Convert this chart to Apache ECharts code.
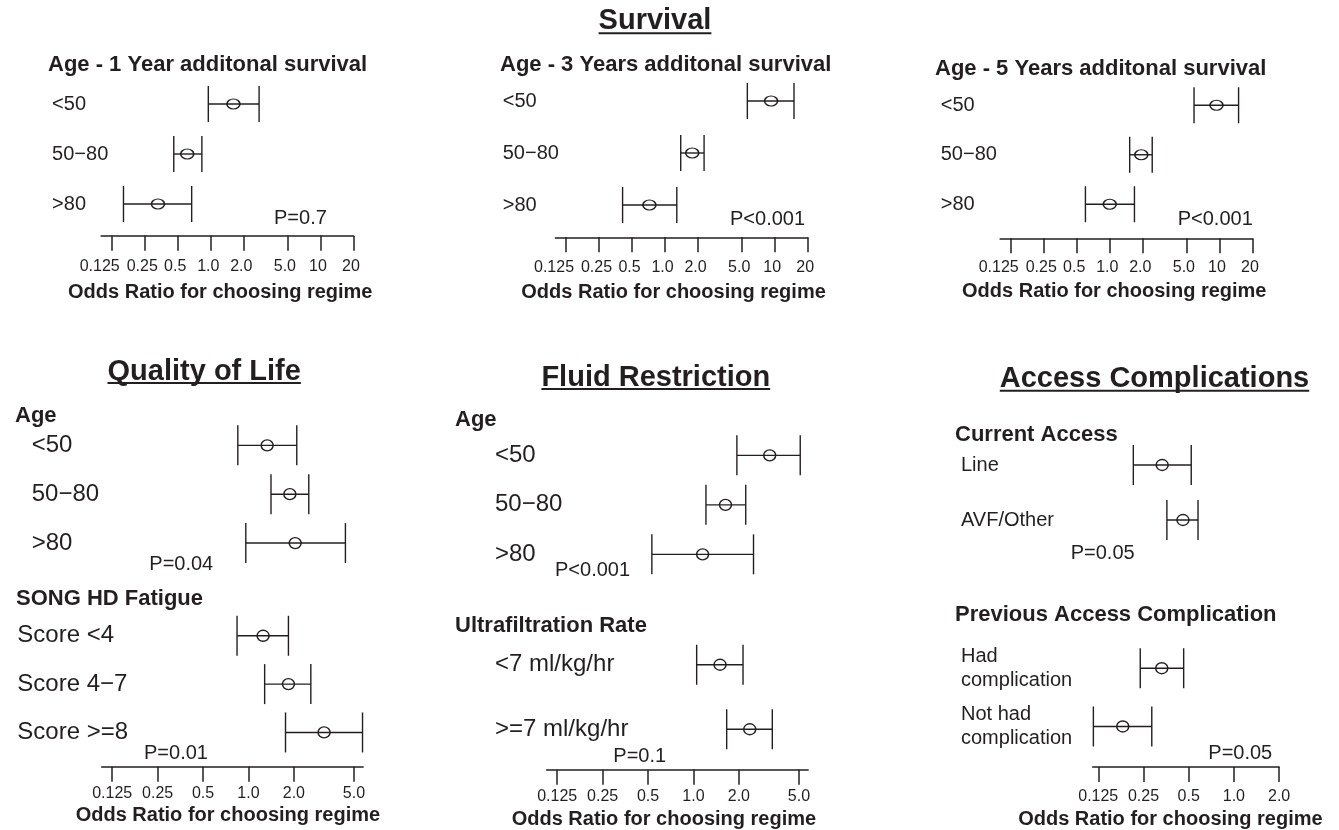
<!DOCTYPE html>
<html>
<head>
<meta charset="utf-8">
<script src="https://cdn.jsdelivr.net/npm/echarts@6/dist/echarts.min.js"></script>
<style>html,body{margin:0;padding:0;background:#fff}#c{width:1339px;height:830px}</style>
</head>
<body>
<div id="c"></div>
<script>
// ---------------- DATA ----------------
const ageLabels = ['<50', '50\u221280', '>80'];

const surv1OR = [1.61, 0.61, 0.33];
const surv1Lo = [0.95, 0.46, 0.16];
const surv1Hi = [2.76, 0.83, 0.67];

const surv3OR = [9.27, 1.77, 0.72];
const surv3Lo = [5.63, 1.39, 0.41];
const surv3Hi = [15.0, 2.27, 1.28];

const surv5OR = [9.41, 1.94, 1.00];
const surv5Lo = [5.87, 1.52, 0.60];
const surv5Hi = [14.96, 2.44, 1.68];

const qolAgeOR = [1.33, 1.88, 2.04];
const qolAgeLo = [0.85, 1.41, 0.96];
const qolAgeHi = [2.09, 2.51, 4.39];

const fatigueLabels = ['Score <4', 'Score 4\u22127', 'Score >=8'];
const fatigueOR = [1.25, 1.84, 3.17];
const fatigueLo = [0.84, 1.28, 1.76];
const fatigueHi = [1.84, 2.59, 5.70];

const fluidAgeOR = [3.20, 1.63, 1.15];
const fluidAgeLo = [1.94, 1.21, 0.53];
const fluidAgeHi = [5.10, 2.22, 2.50];

const ufLabels = ['<7 ml/kg/hr', '>=7 ml/kg/hr'];
const ufOR = [1.50, 2.36];
const ufLo = [1.05, 1.66];
const ufHi = [2.13, 3.33];

const accessLabels = ['Line', 'AVF/Other'];
const accessOR = [0.333, 0.458];
const accessLo = [0.214, 0.358];
const accessHi = [0.52, 0.577];

const prevLabels = ['Had\ncomplication', 'Not had\ncomplication'];
const prevOR = [0.331, 0.182];
const prevLo = [0.238, 0.116];
const prevHi = [0.463, 0.284];

const ticksTop = [0.125, 0.25, 0.5, 1, 2, 5, 10, 20];
const tickLabelsTop = ['0.125', '0.25', '0.5', '1.0', '2.0', '5.0', '10', '20'];
const ticksMid = [0.125, 0.25, 0.5, 1, 2, 5];
const tickLabelsMid = ['0.125', '0.25', '0.5', '1.0', '2.0', '5.0'];
const ticksAcc = [0.125, 0.25, 0.5, 1, 2];
const tickLabelsAcc = ['0.125', '0.25', '0.5', '1.0', '2.0'];

const sectionTitles = ['Survival', 'Quality of Life', 'Fluid Restriction', 'Access Complications'];
const panelTitles = ['Age - 1 Year additonal survival', 'Age - 3 Years additonal survival', 'Age - 5 Years additonal survival'];
const subHeadings = ['Age', 'SONG HD Fatigue', 'Age', 'Ultrafiltration Rate', 'Current Access', 'Previous Access Complication'];
const pValues = ['P=0.7', 'P<0.001', 'P<0.001', 'P=0.04', 'P=0.01', 'P<0.001', 'P=0.1', 'P=0.05', 'P=0.05'];
const axisName = 'Odds Ratio for choosing regime';

// ---------------- LAYOUT ----------------
const INK = '#231f20';
const FONT = '"Liberation Sans", Arial, Helvetica, sans-serif';

const panels = [
  {labels: ageLabels, or: surv1OR, lo: surv1Lo, hi: surv1Hi, ticks: ticksTop, tl: tickLabelsTop, min: 0.1, max: 20,
   grid: {left: 101.1, top: 79, width: 252.3, height: 150}, showX: true, off: 6.7, margin: 49, lf: 20, cap: 18, sym: [13, 10],
   lblM: 23, nameGap: 47, namePad: 14, shiftFirst: true},
  {labels: ageLabels, or: surv3OR, lo: surv3Lo, hi: surv3Hi, ticks: ticksTop, tl: tickLabelsTop, min: 0.1, max: 20,
   grid: {left: 555.4, top: 75, width: 252.3, height: 156}, showX: true, off: 6.3, margin: 52.7, lf: 20, cap: 18, sym: [13, 10],
   lblM: 22, nameGap: 45.4, namePad: 16, shiftFirst: true},
  {labels: ageLabels, or: surv5OR, lo: surv5Lo, hi: surv5Hi, ticks: ticksTop, tl: tickLabelsTop, min: 0.1, max: 20,
   grid: {left: 1000.1, top: 80.5, width: 252.3, height: 148.5}, showX: true, off: 9.3, margin: 59.4, lf: 20, cap: 18, sym: [13, 10],
   lblM: 21, nameGap: 43.4, namePad: 24, shiftFirst: true},
  {labels: ageLabels, or: qolAgeOR, lo: qolAgeLo, hi: qolAgeHi, ticks: ticksMid, tl: tickLabelsMid, min: 0.1065, max: 5.75,
   grid: {left: 101.7, top: 420.9, width: 261.4, height: 146.6}, showX: false, margin: 70, lf: 24, cap: 20, sym: [12, 11]},
  {labels: fatigueLabels, or: fatigueOR, lo: fatigueLo, hi: fatigueHi, ticks: ticksMid, tl: tickLabelsMid, min: 0.1065, max: 5.75,
   grid: {left: 101.7, top: 611.6, width: 261.4, height: 145}, showX: true, off: 10.1, margin: 84.4, lf: 24, cap: 20, sym: [12, 11],
   lblM: 18.6, nameGap: 38.3, namePad: 9},
  {labels: ageLabels, or: fluidAgeOR, lo: fluidAgeLo, hi: fluidAgeHi, ticks: ticksMid, tl: tickLabelsMid, min: 0.1065, max: 5.75,
   grid: {left: 546.7, top: 430.6, width: 261.4, height: 148.5}, showX: false, margin: 51.7, lf: 24, cap: 20, sym: [12, 11]},
  {labels: ufLabels, or: ufOR, lo: ufLo, hi: ufHi, ticks: ticksMid, tl: tickLabelsMid, min: 0.1065, max: 5.75,
   grid: {left: 546.7, top: 632.5, width: 261.4, height: 130}, showX: true, off: 8.2, margin: 51.7, lf: 24, cap: 20, sym: [12, 11],
   lblM: 18.6, nameGap: 39.3, namePad: 27},
  {labels: accessLabels, or: accessOR, lo: accessLo, hi: accessHi, ticks: ticksAcc, tl: tickLabelsAcc, min: 0.1148, max: 2,
   grid: {left: 1092.7, top: 437.5, width: 186.4, height: 110}, showX: false, margin: 131.7, lf: 20, cap: 20, sym: [12, 11]},
  {labels: prevLabels, or: prevOR, lo: prevLo, hi: prevHi, ticks: ticksAcc, tl: tickLabelsAcc, min: 0.1148, max: 2,
   grid: {left: 1092.7, top: 639.1, width: 186.4, height: 116.8}, showX: true, off: 11.4, margin: 131.7, lf: 20, cap: 20, sym: [12, 11],
   lblM: 22, nameGap: 42, namePad: 31}
];

function errRenderer(capHalf) {
  return function (params, api) {
    const y = api.value(2);
    const a = api.coord([api.value(0), y]);
    const b = api.coord([api.value(1), y]);
    const st = {stroke: INK, lineWidth: 1.4, fill: null};
    return {type: 'group', children: [
      {type: 'line', shape: {x1: a[0], y1: a[1], x2: b[0], y2: b[1]}, style: st},
      {type: 'line', shape: {x1: a[0], y1: a[1] - capHalf, x2: a[0], y2: a[1] + capHalf}, style: st},
      {type: 'line', shape: {x1: b[0], y1: b[1] - capHalf, x2: b[0], y2: b[1] + capHalf}, style: st}
    ]};
  };
}

const grids = [], xAxes = [], yAxes = [], series = [];
panels.forEach(function (p, i) {
  grids.push(Object.assign({containLabel: false}, p.grid));
  xAxes.push({
    type: 'log', logBase: 2, gridIndex: i, min: p.min, max: p.max, show: p.showX,
    position: 'bottom', offset: p.off || 0,
    name: p.showX ? axisName : '', nameLocation: 'middle', nameGap: p.nameGap || 0,
    nameTextStyle: {fontFamily: FONT, fontWeight: 'bold', fontSize: 20, color: INK, padding: [0, p.namePad || 0, 0, 0]},
    axisLine: {show: true, lineStyle: {color: INK, width: 1.5}},
    axisTick: {show: true, length: 15, inside: false, customValues: p.ticks, lineStyle: {color: INK, width: 1.5}},
    splitLine: {show: false}, minorTick: {show: false},
    axisLabel: {
      show: true, customValues: p.ticks, margin: p.lblM || 20, fontFamily: FONT, fontSize: 16, color: INK,
      formatter: function (v) {
        let k = 0;
        for (let j = 0; j < p.ticks.length; j++) { if (Math.abs(p.ticks[j] - v) < 1e-6 * p.ticks[j]) k = j; }
        const s = p.tl[k];
        if (!p.shiftFirst) return s;
        return (k === 0 ? '{f|' : '{n|') + s + '}';
      },
      rich: {
        f: {fontFamily: FONT, fontSize: 16, color: INK, padding: [0, 24, 0, 0]},
        n: {fontFamily: FONT, fontSize: 16, color: INK, padding: [0, 5, 0, 0]}
      }
    }
  });
  yAxes.push({
    type: 'category', gridIndex: i, data: p.labels, inverse: true,
    axisLine: {show: false}, axisTick: {show: false}, splitLine: {show: false},
    axisLabel: {align: 'left', margin: p.margin, fontFamily: FONT, fontSize: p.lf, color: INK, lineHeight: 24}
  });
  series.push({
    type: 'custom', xAxisIndex: i, yAxisIndex: i, renderItem: errRenderer(p.cap),
    encode: {x: [0, 1], y: 2}, silent: true, clip: false,
    data: p.labels.map(function (l, j) { return [p.lo[j], p.hi[j], j]; })
  });
  series.push({
    type: 'scatter', xAxisIndex: i, yAxisIndex: i, symbol: 'circle', symbolSize: p.sym, z: 5, silent: true,
    itemStyle: {color: 'rgba(0,0,0,0)', borderColor: INK, borderWidth: 1.4, opacity: 1},
    data: p.labels.map(function (l, j) { return [p.or[j], j]; })
  });
});

// ---------------- TEXT ----------------
const ctx = document.createElement('canvas').getContext('2d');
function tw(text, font) { ctx.font = font; return ctx.measureText(text).width; }

const graphics = [];
function txt(s, x, y, size, bold, align) {
  graphics.push({type: 'text', x: x, y: y, silent: true, style: {
    text: s, fill: INK, font: (bold ? 'bold ' : '') + size + 'px ' + FONT,
    align: align || 'left', verticalAlign: 'middle'}});
}
function heading(s, cx, cy, uy) {
  txt(s, cx, cy, 29, true, 'center');
  const w = tw(s, 'bold 29px ' + FONT);
  graphics.push({type: 'line', silent: true, shape: {x1: cx - w / 2, y1: uy, x2: cx + w / 2, y2: uy},
    style: {stroke: INK, lineWidth: 2}});
}
heading(sectionTitles[0], 655, 21, 33.3);
heading(sectionTitles[1], 204.2, 371.5, 383);
heading(sectionTitles[2], 655.8, 377.5, 389);
heading(sectionTitles[3], 1154.5, 379, 390.7);

txt(panelTitles[0], 48, 65, 22, true);
txt(panelTitles[1], 500, 65, 22, true);
txt(panelTitles[2], 935, 69, 22, true);

txt(subHeadings[0], 15, 416, 22, true);
txt(subHeadings[1], 16, 599.3, 22, true);
txt(subHeadings[2], 455, 420, 22, true);
txt(subHeadings[3], 455, 625.7, 22, true);
txt(subHeadings[4], 955, 435, 22, true);
txt(subHeadings[5], 955, 615, 22, true);

txt(pValues[0], 274, 218, 20);
txt(pValues[1], 730, 219, 20);
txt(pValues[2], 1177.7, 219.3, 20);
txt(pValues[3], 149.3, 564, 20);
txt(pValues[4], 144, 753.3, 20);
txt(pValues[5], 555, 570, 20);
txt(pValues[6], 613.3, 756.7, 20);
txt(pValues[7], 1070.7, 553.3, 20);
txt(pValues[8], 1208.3, 753.3, 20);

const chart = echarts.init(document.getElementById('c'), null, {renderer: 'canvas'});
chart.setOption({
  backgroundColor: '#ffffff',
  animation: false,
  textStyle: {fontFamily: FONT, color: INK},
  grid: grids, xAxis: xAxes, yAxis: yAxes, series: series,
  graphic: {elements: graphics}
});
</script>
</body>
</html>
